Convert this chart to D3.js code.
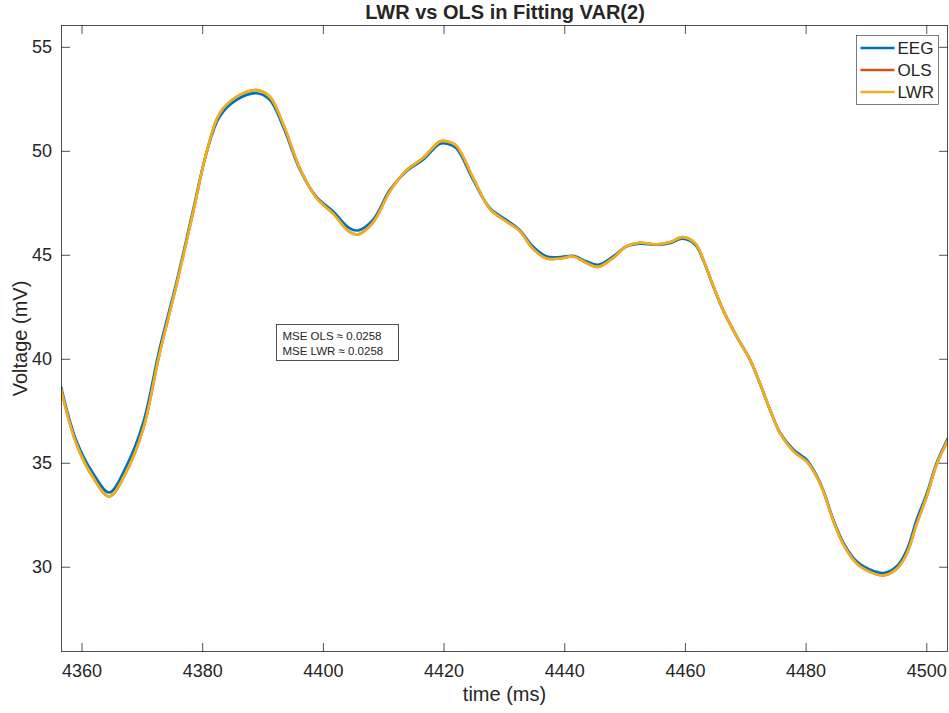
<!doctype html>
<html>
<head>
<script src="https://d3js.org/d3.v7.min.js"></script>
<style>
  body { margin: 0; background: #fff; }
  svg text { font-family: "Liberation Sans", Arial, Helvetica, sans-serif; fill: #262626; }
</style>
</head>
<body>
<div id="chart"></div>
<script>
// time (ms) of the read-off samples
var time = [4356.6, 4359.1, 4361.9, 4364.6, 4367.4, 4370.2, 4372.9, 4375.7, 4378.5, 4380.7,
  4382.9, 4385.7, 4389.0, 4391.2, 4393.4, 4396.2, 4398.9, 4401.7, 4404.4, 4405.8,
  4408.3, 4411.1, 4413.8, 4416.6, 4419.4, 4420.6, 4422.1, 4424.9, 4427.7, 4430.4,
  4432.6, 4434.8, 4437.1, 4439.3, 4441.5, 4443.7, 4445.6, 4448.1, 4450.3, 4452.5,
  4455.3, 4457.5, 4459.6, 4461.7, 4463.0, 4464.7, 4466.3, 4468.6, 4470.8, 4472.4,
  4474.1, 4475.8, 4478.0, 4480.2, 4481.8, 4482.9, 4484.6, 4486.3, 4488.5, 4490.7,
  4492.9, 4495.1, 4496.8, 4498.4, 4500.1, 4501.7, 4503.6];

var eeg = [38.67, 36.1, 34.5, 33.57, 34.82, 36.9, 40.43, 43.64, 47.16, 49.89,
  51.65, 52.45, 52.77, 52.45, 51.17, 49.09, 47.8, 47.08, 46.28, 46.17,
  46.68, 48.13, 49.0, 49.57, 50.34, 50.34, 50.13, 48.6, 47.24, 46.68,
  46.2, 45.4, 44.92, 44.89, 44.95, 44.68, 44.52, 44.92, 45.4, 45.53,
  45.48, 45.56, 45.77, 45.48, 44.76, 43.48, 42.36, 41.07, 39.95, 38.83,
  37.55, 36.43, 35.63, 35.14, 34.4, 33.7, 32.26, 31.14, 30.25, 29.86,
  29.70, 30.02, 30.82, 32.26, 33.54, 34.99, 36.19];

var lwr = [38.55, 35.95, 34.3, 33.38, 34.55, 36.6, 40.2, 43.5, 47.05, 49.9,
  51.8, 52.6, 52.92, 52.6, 51.3, 49.15, 47.75, 46.98, 46.1, 45.98,
  46.55, 48.05, 49.05, 49.65, 50.45, 50.45, 50.25, 48.7, 47.2, 46.6,
  46.15, 45.3, 44.82, 44.82, 44.92, 44.6, 44.42, 44.85, 45.4, 45.58,
  45.5, 45.6, 45.85, 45.55, 44.8, 43.5, 42.35, 41.05, 39.95, 38.85,
  37.55, 36.4, 35.55, 35.05, 34.35, 33.65, 32.2, 31.05, 30.15, 29.75,
  29.58, 29.9, 30.65, 32.05, 33.4, 34.9, 36.1];

var ols = lwr.slice(); // practically identical to LWR (same MSE)

var seriesNames = ["EEG", "OLS", "LWR"];
var seriesColors = ["#0072BD", "#D95319", "#EDB120"];
var xTicks = [4360, 4380, 4400, 4420, 4440, 4460, 4480, 4500];
var yTicks = [30, 35, 40, 45, 50, 55];
var yLim = [25.9, 56.05];
var mseOLS = 0.0258, mseLWR = 0.0258;

var W = 949, H = 713;
var m = {left: 61, top: 25, right: 1, bottom: 61};
var iw = W - m.left - m.right, ih = H - m.top - m.bottom;

var svg = d3.select("#chart").append("svg").attr("width", W).attr("height", H);

var x = d3.scaleLinear().domain(d3.extent(time)).range([0, iw]);
var y = d3.scaleLinear().domain(yLim).range([ih, 0]);

var g = svg.append("g").attr("transform", "translate(" + m.left + "," + m.top + ")");

g.append("clipPath").attr("id", "clip").append("rect").attr("width", iw).attr("height", ih);

var line = d3.line().x(function(d) { return x(d[0]); }).y(function(d) { return y(d[1]); })
  .curve(d3.curveCatmullRom.alpha(0.5));

var all = [eeg, ols, lwr];
g.append("g").attr("clip-path", "url(#clip)")
  .selectAll("path").data(all).enter().append("path")
  .attr("d", function(s) { return line(s.map(function(v, i) { return [time[i], v]; })); })
  .attr("fill", "none")
  .attr("stroke", function(d, i) { return seriesColors[i]; })
  .attr("stroke-width", 2.6)
  .attr("stroke-linejoin", "round");

// axes box with inward ticks on all four sides (MATLAB style)
var axCol = "#262626", tl = 9;
function styleAxis(sel) {
  sel.select(".domain").remove();
  sel.selectAll("line").attr("stroke", axCol).attr("stroke-width", 0.8);
  sel.selectAll("text").style("font-size", "18px").attr("fill", axCol);
}
g.append("g").attr("transform", "translate(0," + ih + ")")
  .call(d3.axisBottom(x).tickValues(xTicks).tickSize(-tl).tickPadding(12).tickFormat(d3.format("d")))
  .call(styleAxis);
g.append("g")
  .call(d3.axisTop(x).tickValues(xTicks).tickSize(-tl).tickFormat(""))
  .call(styleAxis);
g.append("g")
  .call(d3.axisLeft(y).tickValues(yTicks).tickSize(-tl).tickPadding(9).tickFormat(d3.format("d")))
  .call(styleAxis);
g.append("g").attr("transform", "translate(" + iw + ",0)")
  .call(d3.axisRight(y).tickValues(yTicks).tickSize(-tl).tickFormat(""))
  .call(styleAxis);
g.append("rect").attr("x", 0.5).attr("y", 0.5).attr("width", iw - 1).attr("height", ih - 1)
  .attr("fill", "none").attr("stroke", axCol).attr("stroke-width", 0.8);

// title and axis labels
svg.append("text").attr("x", 505).attr("y", 19).attr("text-anchor", "middle")
  .style("font-size", "20px").style("font-weight", "bold").text("LWR vs OLS in Fitting VAR(2)");
svg.append("text").attr("x", m.left + iw / 2).attr("y", 701).attr("text-anchor", "middle")
  .style("font-size", "20px").text("time (ms)");
svg.append("text").attr("transform", "translate(27," + (m.top + ih / 2) + ") rotate(-90)")
  .attr("text-anchor", "middle").style("font-size", "20px").text("Voltage (mV)");

// legend
var lg = svg.append("g").attr("transform", "translate(856.5,35.5)");
lg.append("rect").attr("width", 82).attr("height", 69).attr("fill", "#fff")
  .attr("stroke", "#262626").attr("stroke-width", 0.6);
var le = lg.selectAll("g.item").data(seriesNames).enter().append("g")
  .attr("transform", function(d, i) { return "translate(0," + (12.5 + i * 22) + ")"; });
le.append("line").attr("x1", 4).attr("x2", 38).attr("stroke-width", 2.6)
  .attr("stroke", function(d, i) { return seriesColors[i]; });
le.append("text").attr("x", 41).attr("y", 6).style("font-size", "17px").text(function(d) { return d; });

// MSE annotation box
var ab = svg.append("g").attr("transform", "translate(276.5,324.5)");
ab.append("rect").attr("width", 122).attr("height", 36).attr("fill", "#fff")
  .attr("stroke", "#262626").attr("stroke-width", 0.8);
ab.append("text").attr("x", 6).attr("y", 15).style("font-size", "11.5px").text("MSE OLS \u2248 " + mseOLS);
ab.append("text").attr("x", 6).attr("y", 30).style("font-size", "11.5px").text("MSE LWR \u2248 " + mseLWR);
</script>
</body>
</html>
